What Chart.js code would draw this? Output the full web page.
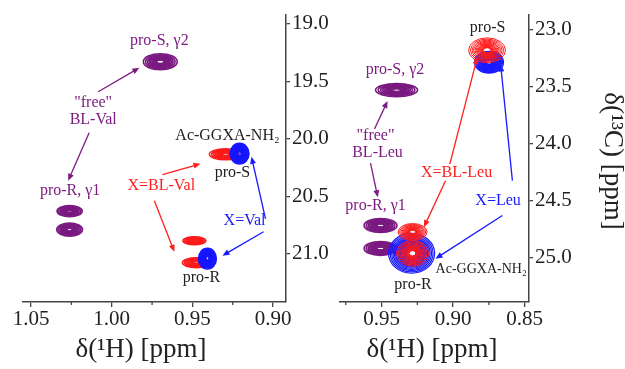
<!DOCTYPE html>
<html><head><meta charset="utf-8">
<script src="https://cdn.jsdelivr.net/npm/chart.js@4.4.1/dist/chart.umd.min.js"></script>
<style>
html,body{margin:0;padding:0;background:#fff;}
#wrap{position:relative;width:625px;height:369px;overflow:hidden;background:#fff;}
canvas{position:absolute;left:0;top:0;}
#fontprobe{position:absolute;left:-2000px;top:0;font-family:'Liberation Serif';font-size:20px;white-space:nowrap;}
</style></head><body>
<div id="fontprobe">δ(¹H) [ppm] 19.0 pro-S, γ2 Ac-GGXA-NH₂</div>
<div id="wrap"><canvas id="cL" width="625" height="369"></canvas><canvas id="cR" width="625" height="369"></canvas></div>
<script>
// ================= DATA =================
// ---- left panel: Val ----
const valTicksH = [1.05, 1.00, 0.95, 0.90];
const valMinorH = [1.025, 0.975, 0.925];
const valTicksC = [19.0, 19.5, 20.0, 20.5, 21.0];
// "free" BL-Val: pro-S γ2, pro-R γ1 (two)
const valFreeH  = [0.9699, 1.0261, 1.0261];
const valFreeC  = [19.33, 20.63, 20.79];
const valFreeWH = [0.0105, 0.0078, 0.0080];
const valFreeWC = [0.070, 0.048, 0.057];
// Ac-GGXA-NH2, X = BL-Val
const valBLH  = [0.9295, 0.9488, 0.9475];
const valBLC  = [20.135, 20.887, 21.078];
const valBLWH = [0.0100, 0.0071, 0.0087];
const valBLWC = [0.048, 0.035, 0.043];
// Ac-GGXA-NH2, X = Val
const valXH  = [0.9208, 0.9407];
const valXC  = [20.13, 21.043];
const valXWH = [0.0058, 0.0055];
const valXWC = [0.090, 0.090];

// ---- right panel: Leu ----
const leuTicksH = [0.95, 0.90, 0.85];
const leuMinorH = [0.975, 0.925, 0.875];
const leuTicksC = [23.0, 23.5, 24.0, 24.5, 25.0];
const leuFreeH  = [0.9395, 0.9507, 0.9507];
const leuFreeC  = [23.532, 24.719, 24.92];
const leuFreeWH = [0.0147, 0.0115, 0.0115];
const leuFreeWC = [0.057, 0.061, 0.061];
const leuBLH  = [0.8763, 0.9283, 0.9283];
const leuBLC  = [23.183, 24.776, 24.963];
const leuBLWH = [0.0129, 0.0101, 0.0112];
const leuBLWC = [0.109, 0.074, 0.113];
const leuXH  = [0.8749, 0.929];
const leuXC  = [23.288, 24.963];
const leuXWH = [0.0101, 0.0161];
const leuXWC = [0.096, 0.175];

// ---- annotations (text, 1H ppm, 13C ppm, role) ----
const valLabels = [
  ['pro-S, γ2', 0.9705, 19.15, 'free'],
  ['"free"', 1.0115, 19.69, 'free'],
  ['BL-Val', 1.0115, 19.835, 'free'],
  ['pro-R, γ1', 1.0258, 20.45, 'free'],
  ['Ac-GGXA-NH₂', 0.9283, 19.97, 'pep'],
  ['pro-S', 0.9252, 20.30, 'pep'],
  ['X=BL-Val', 0.9693, 20.41, 'bl'],
  ['X=Val', 0.9177, 20.715, 'x'],
  ['pro-R', 0.9444, 21.21, 'pep']
];
const valArrows = [
  [1.0084, 19.591, 0.9829, 19.383, 'free'],
  [1.014, 19.948, 1.027, 20.365, 'free'],
  [0.9686, 20.313, 0.945, 20.217, 'bl'],
  [0.9736, 20.539, 0.9612, 20.983, 'bl'],
  [0.9047, 20.696, 0.9134, 20.157, 'x'],
  [0.9059, 20.809, 0.9314, 21.017, 'x']
];
const leuLabels = [
  ['pro-S', 0.8759, 22.985, 'pep'],
  ['pro-S, γ2', 0.9406, 23.355, 'free'],
  ['"free"', 0.9542, 23.93, 'free'],
  ['BL-Leu', 0.9528, 24.08, 'free'],
  ['X=BL-Leu', 0.8976, 24.255, 'bl'],
  ['X=Leu', 0.8686, 24.505, 'x'],
  ['pro-R, γ1', 0.9542, 24.545, 'free'],
  ['Ac-GGXA-NH₂', 0.8804, 25.10, 'pepS'],
  ['pro-R', 0.928, 25.24, 'pep']
];
const leuArrows = [
  [0.9549, 23.873, 0.9458, 23.628, 'free'],
  [0.9577, 24.172, 0.9526, 24.472, 'free'],
  [0.9023, 24.181, 0.8831, 23.244, 'bl'],
  [0.9053, 24.326, 0.9204, 24.734, 'bl'],
  [0.8586, 24.326, 0.8668, 23.308, 'x'],
  [0.8656, 24.632, 0.9123, 25.01, 'x']
];

// ================= STYLES =================
const COL = { free: '#7d1d82', bl: '#ff1f1f', x: '#1a1aff', pep: '#222222', pepS: '#222222' };
const FONT = "'Liberation Serif'";

function peaks(H, C, WH, WC) {
  return H.map((h, i) => ({ x: h, y: C[i], wx: WH[i], wy: WC[i] }));
}

const contourPlugin = {
  id: 'contours',
  afterDatasetsDraw(chart) {
    const ctx = chart.ctx, xs = chart.scales.x, ys = chart.scales.y, ca = chart.chartArea;
    ctx.save();
    ctx.beginPath(); ctx.rect(ca.left, ca.top, ca.right - ca.left, ca.bottom - ca.top); ctx.clip();
    chart.data.datasets.forEach((ds, di) => {
      const meta = chart.getDatasetMeta(di);
      const st = ds.contour;
      meta.data.forEach((pt, i) => {
        const d = ds.data[i];
        const a = Math.abs(xs.getPixelForValue(d.x + d.wx) - xs.getPixelForValue(d.x));
        const b = Math.abs(ys.getPixelForValue(d.y + d.wy) - ys.getPixelForValue(d.y));
        ctx.strokeStyle = st.color;
        ctx.lineWidth = st.lw;
        for (let k = 0; k < st.n; k++) {
          const s = Math.pow(st.r, k);
          ctx.beginPath();
          ctx.ellipse(pt.x, pt.y, a * s, b * s, 0, 0, Math.PI * 2);
          ctx.stroke();
        }
      });
    });
    ctx.restore();
  }
};

function notesPlugin(labels, arrows, minor, titles) {
  return {
    id: 'notes',
    afterDraw(chart) {
      const ctx = chart.ctx, xs = chart.scales.x, ys = chart.scales.y, ca = chart.chartArea;
      ctx.save();
      // minor ticks
      ctx.strokeStyle = '#444'; ctx.lineWidth = 1.3;
      minor.forEach(v => {
        const px = xs.getPixelForValue(v);
        ctx.beginPath(); ctx.moveTo(px, ca.bottom); ctx.lineTo(px, ca.bottom + 3); ctx.stroke();
      });
      // arrows
      arrows.forEach(a => {
        const x1 = xs.getPixelForValue(a[0]), y1 = ys.getPixelForValue(a[1]);
        const x2 = xs.getPixelForValue(a[2]), y2 = ys.getPixelForValue(a[3]);
        const c = COL[a[4]];
        ctx.strokeStyle = c; ctx.fillStyle = c; ctx.lineWidth = 1.3;
        const ang = Math.atan2(y2 - y1, x2 - x1);
        const L = 7, W = 3;
        ctx.beginPath(); ctx.moveTo(x1, y1);
        ctx.lineTo(x2 - Math.cos(ang) * L * 0.8, y2 - Math.sin(ang) * L * 0.8); ctx.stroke();
        ctx.beginPath();
        ctx.moveTo(x2, y2);
        ctx.lineTo(x2 - Math.cos(ang) * L + Math.sin(ang) * W, y2 - Math.sin(ang) * L - Math.cos(ang) * W);
        ctx.lineTo(x2 - Math.cos(ang) * L - Math.sin(ang) * W, y2 - Math.sin(ang) * L + Math.cos(ang) * W);
        ctx.closePath(); ctx.fill();
      });
      // labels
      ctx.textAlign = 'center'; ctx.textBaseline = 'middle';
      labels.forEach(l => {
        ctx.fillStyle = COL[l[3]];
        ctx.font = (l[3] === 'pepS' ? '14px ' : '16px ') + FONT;
        ctx.fillText(l[0], xs.getPixelForValue(l[1]), ys.getPixelForValue(l[2]));
      });
      // axis titles
      ctx.fillStyle = '#222';
      ctx.font = '27px ' + FONT;
      titles.forEach(t => {
        ctx.save();
        ctx.translate(t[1], t[2]);
        ctx.rotate(t[3]);
        ctx.fillText(t[0], 0, 0);
        ctx.restore();
      });
      ctx.restore();
    }
  };
}

function axisOpts(min, max, ticks, digits, pos, size) {
  return {
    type: 'linear', position: pos, reverse: true, min: min, max: max,
    afterFit: s => { if (pos === 'bottom') s.height = size; else s.width = size; },
    afterBuildTicks: s => { s.ticks = ticks.map(v => ({ value: v })); },
    ticks: { font: { family: FONT, size: 21 }, color: '#222', padding: pos === 'bottom' ? 0 : 2,
             maxRotation: 0, autoSkip: false, callback: v => Number(v).toFixed(digits) },
    grid: { drawOnChartArea: false, drawTicks: true, tickLength: pos === 'bottom' ? 5 : 4, color: '#444', lineWidth: 1.3 },
    border: { display: true, color: '#444', width: 1.5 }
  };
}

function makeChart(id, datasets, padding, xr, yr, xt, yt, plugin) {
  return new Chart(document.getElementById(id), {
    type: 'scatter',
    data: { datasets: datasets },
    options: {
      responsive: false, animation: false, devicePixelRatio: 1, events: [],
      layout: { padding: padding },
      elements: { point: { radius: 0, hoverRadius: 0 } },
      plugins: { legend: { display: false }, tooltip: { enabled: false } },
      scales: {
        x: axisOpts(xr[0], xr[1], xt, 2, 'bottom', 67),
        y: axisOpts(yr[0], yr[1], yt, 1, 'right', 50)
      }
    },
    plugins: [contourPlugin, plugin]
  });
}

// force the serif font to be resolved before drawing
void document.getElementById('fontprobe').offsetWidth;

const charts = [];
// left chart
charts.push(makeChart('cL', [
  { data: peaks(valFreeH, valFreeC, valFreeWH, valFreeWC), contour: { color: '#7a1a80', n: 12, r: 0.87, lw: 1.6 } },
  { data: peaks(valBLH, valBLC, valBLWH, valBLWC), contour: { color: '#ff1a1a', n: 11, r: 0.86, lw: 1.5 } },
  { data: peaks(valXH, valXC, valXWH, valXWC), contour: { color: '#1616ff', n: 16, r: 0.9, lw: 1.6 } }
], { left: 23, top: 14, right: 289, bottom: 0 }, [0.892, 1.055], [18.92, 21.42], valTicksH, valTicksC,
  notesPlugin(valLabels, valArrows, valMinorH, [['δ(¹H) [ppm]', 141, 350, 0]])));

// right chart
charts.push(makeChart('cR', [
  { data: peaks(leuFreeH, leuFreeC, leuFreeWH, leuFreeWC), contour: { color: '#7a1a80', n: 12, r: 0.87, lw: 1.6 } },
  { data: peaks(leuXH, leuXC, leuXWH, leuXWC), contour: { color: '#1a1aff', n: 24, r: 0.93, lw: 1.2 } },
  { data: peaks(leuBLH, leuBLC, leuBLWH, leuBLWC), contour: { color: '#ff1a1a', n: 16, r: 0.9, lw: 1.0 } }
], { left: 340, top: 14, right: 46, bottom: 0 }, [0.847, 0.979], [22.87, 25.39], leuTicksH, leuTicksC,
  notesPlugin(leuLabels, leuArrows, leuMinorH, [['δ(¹H) [ppm]', 432, 350, 0], ['δ(¹³C) [ppm]', 612, 161, Math.PI / 2]])));

if (document.fonts) {
  document.fonts.load("16px 'Liberation Serif'").then(() => charts.forEach(c => c.update('none')));
}
</script>
</body></html>
